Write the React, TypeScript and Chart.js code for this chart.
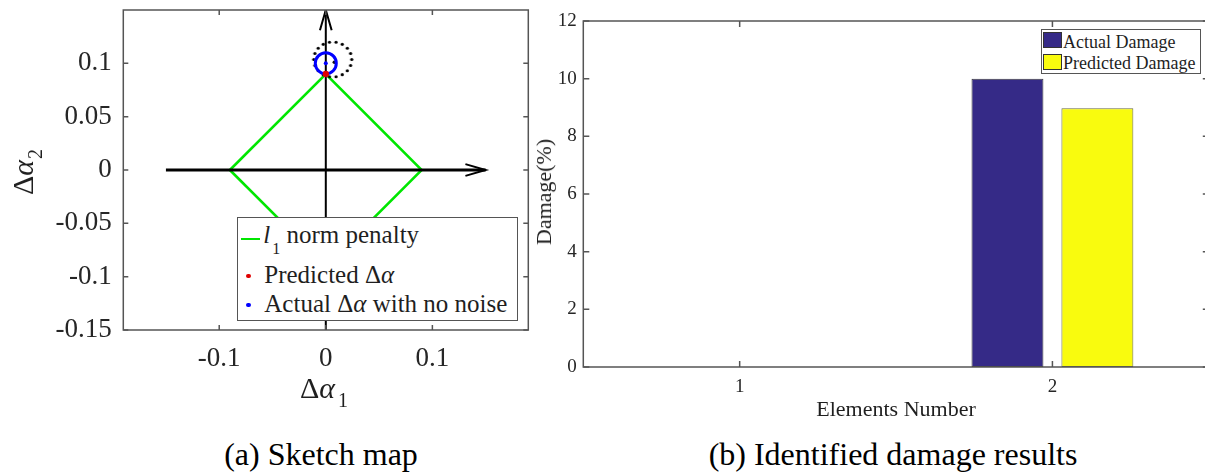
import React, { useEffect, useRef } from "react";
import { Chart, registerables } from "chart.js";

Chart.register(...registerables);

const FONT = "'Liberation Serif', 'Times New Roman', Times, serif";
const TEXT = "#1f1f1f";
const AXIS = "#555555";

// ---------- (a) Sketch map data ----------
const penaltyX = [-0.09, 0, 0.09, 0, -0.09];
const penaltyY = [0, 0.09, 0, -0.09, 0];
const axis1X = [-0.15, 0.15];
const axis1Y = [0, 0];
const axis2X = [0, 0];
const axis2Y = [-0.15, 0.15];
const arrow1X = [0.131, 0.15, 0.131];
const arrow1Y = [0.0055, 0, -0.0055];
const arrow2X = [-0.0055, 0, 0.0055];
const arrow2Y = [0.131, 0.15, 0.131];
const predictedX = [0];
const predictedY = [0.09];
const actualX = [0];
const actualY = [0.1];
const noisyX = [0.0065];
const noisyY = [0.1036];
const noisyMarkX = [0.008];
const noisyMarkY = [0.101];
const xTicksA = [-0.1, 0, 0.1];
const yTicksA = [-0.15, -0.1, -0.05, 0, 0.05, 0.1];

// ---------- (b) Identified damage data ----------
const elements = ["1", "2"];
const seriesNames = ["Actual Damage", "Predicted Damage"];
const seriesColors = ["#352a87", "#f9fb0e"];
const actualDamage = [0, 10];
const predictedDamage = [0, 8.97];
const damageTicks = [0, 2, 4, 6, 8, 10, 12];

const pts = (xs: number[], ys: number[]) => xs.map((x, i) => ({ x, y: ys[i] }));

function makeDottedRing(rx: number, ry: number, dotR: number, n: number, color: string) {
  const c = document.createElement("canvas");
  const w = Math.ceil(2 * (rx + dotR) + 2);
  const h = Math.ceil(2 * (ry + dotR) + 2);
  c.width = w;
  c.height = h;
  const g = c.getContext("2d")!;
  g.fillStyle = color;
  for (let i = 0; i < n; i++) {
    const t = (2 * Math.PI * i) / n;
    g.beginPath();
    g.arc(w / 2 + rx * Math.cos(t), h / 2 + ry * Math.sin(t), dotR, 0, 2 * Math.PI);
    g.fill();
  }
  return c;
}

const boxPlugin = {
  id: "matlabBox",
  afterDatasetsDraw(chart: any, _args: any, opts: any) {
    const { ctx, chartArea: a } = chart;
    const len = opts.tickLength ?? 5;
    ctx.save();
    ctx.strokeStyle = opts.color ?? AXIS;
    ctx.lineWidth = opts.width ?? 1.5;
    ctx.beginPath();
    const xs = chart.scales.x;
    xs.ticks.forEach((_t: any, i: number) => {
      const p = xs.getPixelForTick(i);
      ctx.moveTo(p, a.bottom);
      ctx.lineTo(p, a.bottom - len);
      ctx.moveTo(p, a.top);
      ctx.lineTo(p, a.top + len);
    });
    const ys = chart.scales.y;
    ys.ticks.forEach((_t: any, i: number) => {
      const p = ys.getPixelForTick(i);
      ctx.moveTo(a.left, p);
      ctx.lineTo(a.left + len, p);
      ctx.moveTo(a.right, p);
      ctx.lineTo(a.right - len, p);
    });
    ctx.stroke();
    ctx.strokeRect(a.left, a.top, a.right - a.left, a.bottom - a.top);
    ctx.restore();
  },
};

const zeroPad = (s: any) => {
  s.paddingTop = 0;
  s.paddingBottom = 0;
  s.paddingLeft = 0;
  s.paddingRight = 0;
};

function Txt(props: any) {
  const { x, y, size, align = "left", children, style } = props;
  const tx = align === "center" ? "translateX(-50%)" : align === "right" ? "translateX(-100%)" : "none";
  return (
    <div
      style={{
        position: "absolute",
        left: x,
        top: y - 0.8375 * size,
        fontSize: size,
        lineHeight: `${size}px`,
        whiteSpace: "nowrap",
        transform: tx,
        ...style,
      }}
    >
      {children}
    </div>
  );
}

function VTxt(props: any) {
  const { cx, cy, size, children } = props;
  return (
    <div
      style={{
        position: "absolute",
        left: cx,
        top: cy,
        fontSize: size,
        lineHeight: `${size}px`,
        whiteSpace: "nowrap",
        transform: "translate(-50%, -50%) rotate(-90deg)",
      }}
    >
      {children}
    </div>
  );
}

const Sub = (props: any) => (
  <span style={{ fontSize: props.size, position: "relative", top: props.dy, lineHeight: 0, marginLeft: props.ml ?? 1 }}>
    {props.children}
  </span>
);
const It = (props: any) => <span style={{ fontStyle: "italic" }}>{props.children}</span>;

export default function App() {
  const leftRef = useRef<HTMLCanvasElement>(null);
  const rightRef = useRef<HTMLCanvasElement>(null);

  useEffect(() => {
    const ring = makeDottedRing(19, 17.5, 1.6, 18, "#000000");
    const lineDs = (label: string, data: any[], color: string, width: number, order: number) => ({
      label,
      data,
      showLine: true,
      borderColor: color,
      borderWidth: width,
      pointRadius: 0,
      fill: false,
      order,
    });
    const tickOpts = (size: number, padding: number) => ({
      font: { family: FONT, size },
      color: "#262626",
      padding,
      autoSkip: false,
      maxRotation: 0,
      minRotation: 0,
    });
    const noGrid = { display: false, drawTicks: false };

    const left = new Chart(leftRef.current!, {
      type: "scatter",
      data: {
        datasets: [
          { label: "Predicted", data: pts(predictedX, predictedY), pointRadius: 3.2, pointBackgroundColor: "#e00000", pointBorderWidth: 0, order: 0 },
          { label: "Actual", data: pts(actualX, actualY), pointRadius: 2, pointBackgroundColor: "#0000ff", pointBorderWidth: 0, order: 1 },
          { label: "Actual ring", data: pts(actualX, actualY), pointRadius: 10.5, pointBackgroundColor: "rgba(0,0,0,0)", pointBorderColor: "#0000ff", pointBorderWidth: 3, order: 2 },
          { label: "Noisy mark", data: pts(noisyMarkX, noisyMarkY), pointRadius: 1.8, pointBackgroundColor: "#111", pointBorderWidth: 0, order: 3 },
          { label: "Noisy", data: pts(noisyX, noisyY), pointRadius: 18, pointStyle: ring as any, order: 4 },
          lineDs("arrow1", pts(arrow1X, arrow1Y), "#000", 2, 5),
          lineDs("arrow2", pts(arrow2X, arrow2Y), "#000", 2, 5),
          lineDs("axis1", pts(axis1X, axis1Y), "#000", 2.8, 6),
          lineDs("axis2", pts(axis2X, axis2Y), "#000", 2, 6),
          lineDs("l1 norm penalty", pts(penaltyX, penaltyY), "#00e600", 2.5, 7),
        ] as any,
      },
      options: {
        animation: false,
        responsive: false,
        devicePixelRatio: 1,
        layout: { autoPadding: false, padding: { left: 0, top: 10, right: 540 - 528.3, bottom: 430 - 330 - 40 } },
        plugins: {
          legend: { display: false },
          tooltip: { enabled: false },
          matlabBox: { tickLength: 5, color: AXIS, width: 1.5 },
        } as any,
        scales: {
          x: {
            type: "linear",
            min: -0.19,
            max: 0.19,
            grid: noGrid,
            border: { display: false },
            afterBuildTicks: (s: any) => {
              s.ticks = xTicksA.map((v) => ({ value: v }));
            },
            afterFit: (s: any) => {
              s.height = 40;
              zeroPad(s);
            },
            ticks: { ...tickOpts(27, 13), callback: (v: any) => String(v) },
          },
          y: {
            type: "linear",
            min: -0.15,
            max: 0.15,
            grid: noGrid,
            border: { display: false },
            afterBuildTicks: (s: any) => {
              s.ticks = yTicksA.map((v) => ({ value: v }));
            },
            afterFit: (s: any) => {
              s.width = 123.3;
              zeroPad(s);
            },
            ticks: { ...tickOpts(27, 11.6), callback: (v: any) => String(v) },
          },
        },
      } as any,
      plugins: [boxPlugin],
    });

    const right = new Chart(rightRef.current!, {
      type: "bar",
      data: {
        labels: elements,
        datasets: [
          {
            label: seriesNames[0],
            data: actualDamage,
            backgroundColor: seriesColors[0],
            borderColor: "#3a3a3a",
            borderWidth: 1,
            borderSkipped: false,
            categoryPercentage: 0.575,
            barPercentage: 0.8,
          },
          {
            label: seriesNames[1],
            data: predictedDamage,
            backgroundColor: seriesColors[1],
            borderColor: "#6a6a40",
            borderWidth: 1,
            borderSkipped: false,
            categoryPercentage: 0.575,
            barPercentage: 0.8,
          },
        ],
      },
      options: {
        animation: false,
        responsive: false,
        devicePixelRatio: 1,
        layout: { autoPadding: false, padding: { left: 0, top: 21, right: 680 - 668.8, bottom: 430 - 367 - 40 } },
        plugins: {
          legend: { display: false },
          tooltip: { enabled: false },
          matlabBox: { tickLength: 6, color: AXIS, width: 1.5 },
        } as any,
        scales: {
          x: {
            grid: noGrid,
            border: { display: false },
            afterFit: (s: any) => {
              s.height = 40;
              zeroPad(s);
            },
            ticks: tickOpts(19, 9),
          },
          y: {
            type: "linear",
            min: 0,
            max: 12,
            grid: noGrid,
            border: { display: false },
            afterBuildTicks: (s: any) => {
              s.ticks = damageTicks.map((v) => ({ value: v }));
            },
            afterFit: (s: any) => {
              s.width = 43.3;
              zeroPad(s);
            },
            ticks: { ...tickOpts(19, 6.6), callback: (v: any) => String(v) },
          },
        },
      } as any,
      plugins: [boxPlugin],
    });

    return () => {
      left.destroy();
      right.destroy();
    };
  }, []);

  return (
    <div
      style={{
        position: "absolute",
        left: 0,
        top: 0,
        width: 1205,
        height: 472,
        overflow: "hidden",
        background: "#ffffff",
        fontFamily: FONT,
        color: TEXT,
      }}
    >
      <canvas ref={leftRef} width={540} height={430} style={{ position: "absolute", left: 0, top: 0 }} />
      <canvas ref={rightRef} width={680} height={430} style={{ position: "absolute", left: 540, top: 0 }} />

      {/* (a) axis titles */}
      <VTxt cx={22.9} cy={172} size={30}>
        Δ<It>α</It>
        <Sub size={20} dy={9}>2</Sub>
      </VTxt>
      <Txt x={300} y={398} size={30}>
        Δ<It>α</It>
        <Sub size={20} dy={9} ml={3}>1</Sub>
      </Txt>

      {/* (a) legend */}
      <div
        style={{
          position: "absolute",
          left: 236.7,
          top: 216.7,
          width: 281.6,
          height: 104,
          boxSizing: "border-box",
          border: `1.5px solid ${AXIS}`,
          background: "#fff",
        }}
      />
      <div style={{ position: "absolute", left: 240.7, top: 237.8, width: 19.3, height: 2.6, background: "#00e600" }} />
      <Txt x={263.3} y={243.3} size={25}>
        <It>l</It>
        <Sub size={16} dy={11} ml={2}>1</Sub> norm penalty
      </Txt>
      <div style={{ position: "absolute", left: 246, top: 273.7, width: 4.6, height: 4.6, borderRadius: "50%", background: "#e00000" }} />
      <Txt x={264.3} y={283.3} size={25}>
        Predicted Δ<It>α</It>
      </Txt>
      <div style={{ position: "absolute", left: 246, top: 302.7, width: 4.6, height: 4.6, borderRadius: "50%", background: "#0000ff" }} />
      <Txt x={264.3} y={311.7} size={25}>
        Actual Δ<It>α</It> with no noise
      </Txt>

      {/* (b) axis titles */}
      <VTxt cx={543.8} cy={192} size={22}>
        Damage(%)
      </VTxt>
      <Txt x={896} y={416} size={22} align="center">
        Elements Number
      </Txt>

      {/* (b) legend */}
      <div
        style={{
          position: "absolute",
          left: 1040.7,
          top: 29.3,
          width: 160.3,
          height: 44.7,
          boxSizing: "border-box",
          border: `1.5px solid ${AXIS}`,
          background: "#fff",
        }}
      />
      {seriesNames.map((name, i) => (
        <React.Fragment key={name}>
          <div
            style={{
              position: "absolute",
              left: 1043.3,
              top: 32.3 + i * 21.2,
              width: 18.4,
              height: 16,
              boxSizing: "border-box",
              border: "1px solid #333",
              background: seriesColors[i],
            }}
          />
          <Txt x={1063} y={48.3 + i * 21} size={18}>
            {name}
          </Txt>
        </React.Fragment>
      ))}

      {/* captions */}
      <Txt x={321} y={465} size={32} align="center" style={{ color: "#000" }}>
        (a) Sketch map
      </Txt>
      <Txt x={893} y={465} size={32} align="center" style={{ color: "#000" }}>
        (b) Identified damage results
      </Txt>
    </div>
  );
}
